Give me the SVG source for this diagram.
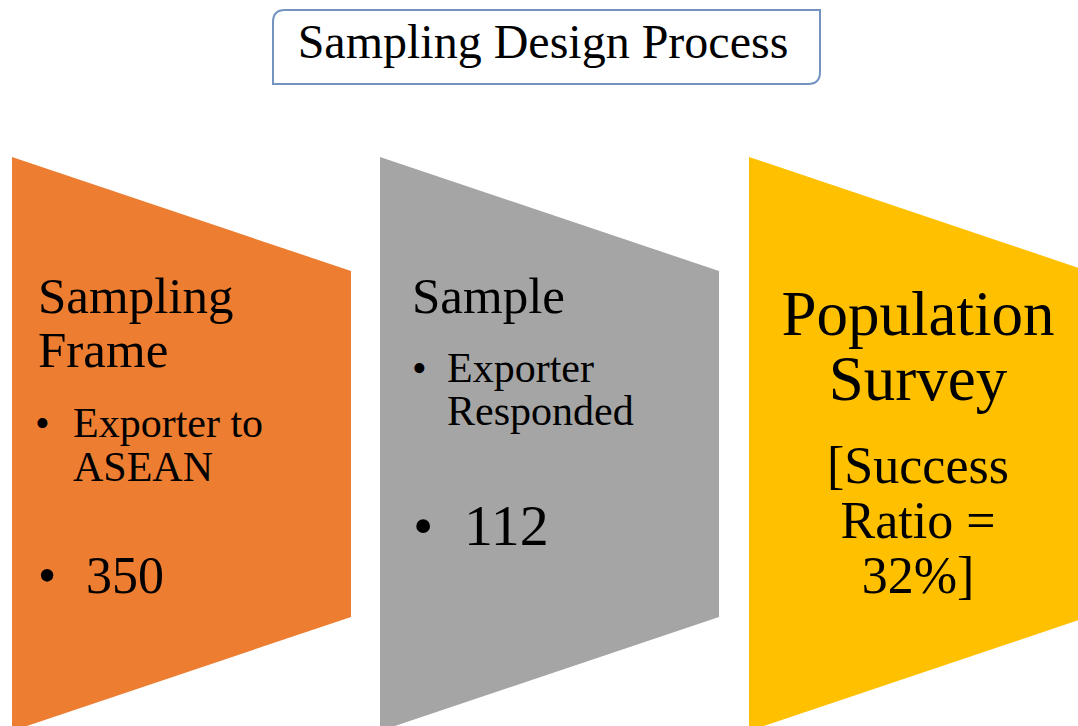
<svg xmlns="http://www.w3.org/2000/svg" width="1078" height="726" viewBox="0 0 1078 726">
<style>
  text { font-family: "Liberation Serif", "Times New Roman", serif; fill: #000; }
  .h { font-size: 51px; }
  .b { font-size: 42px; }
  .n { font-size: 52px; }
  .big { font-size: 63px; }
</style>
<rect width="1078" height="726" fill="#fff"/>
<g id="title">
  <path d="M273,22 Q273,10 285,10 H820 V72 Q820,84 808,84 H273 Z" fill="#fff" stroke="#7394C0" stroke-width="2"/>
  <text x="543" y="58" font-size="48" text-anchor="middle">Sampling Design Process</text>
</g>
<g id="sampling-frame">
  <polygon points="12,157 351,271 351,617 12,731" fill="#ED7D31"/>
  <text class="h" x="38" y="313">Sampling</text>
  <text class="h" x="38" y="367">Frame</text>
  <text class="b" x="35" y="437">•</text>
  <text class="b" x="73" y="437">Exporter to</text>
  <text class="b" x="73" y="481">ASEAN</text>
  <text class="n" x="38" y="593">•</text>
  <text class="n" x="86" y="593">350</text>
</g>
<g id="sample">
  <polygon points="380,157 719,271 719,617 380,731" fill="#A5A5A5"/>
  <text class="h" x="412" y="313">Sample</text>
  <text class="b" x="412" y="382">•</text>
  <text class="b" x="447" y="382">Exporter</text>
  <text class="b" x="447" y="425">Responded</text>
  <text x="413" y="545" font-size="58">•</text>
  <text x="464" y="545" font-size="58">112</text>
</g>
<g id="population-survey">
  <polygon points="749,157 1088,271 1088,617 749,731" fill="#FFC000"/>
  <text class="big" x="918" y="335" text-anchor="middle">Population</text>
  <text class="big" x="918" y="400" text-anchor="middle">Survey</text>
  <text class="n" x="918" y="483" text-anchor="middle">[Success</text>
  <text class="n" x="918" y="538" text-anchor="middle">Ratio =</text>
  <text class="n" x="918" y="593" text-anchor="middle">32%]</text>
</g>
<g id="connectors"></g>
</svg>
